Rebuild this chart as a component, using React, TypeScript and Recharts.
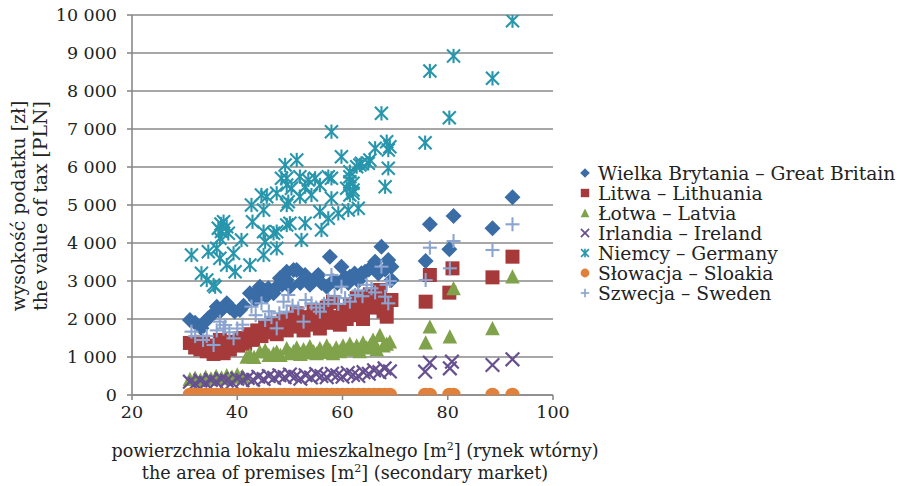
import React from 'react';
import { ScatterChart, Scatter, XAxis, YAxis, CartesianGrid } from 'recharts';

type P = [number, number];

const seriesNames = [
  'Wielka Brytania – Great Britain',
  'Litwa – Lithuania',
  'Łotwa – Latvia',
  'Irlandia – Ireland',
  'Niemcy – Germany',
  'Słowacja – Sloakia',
  'Szwecja – Sweden',
];

const greatBritain: P[] = [
  [31, 1974], [32, 1900], [33.2, 1754], [34, 1950], [34.5, 2018], [35.5, 2150], [36.1, 2325], [36.7, 2200],
  [37.4, 2300], [38, 2412], [38.6, 2300], [39.5, 2200], [40.5, 2237], [41.2, 2350], [42.4, 2675], [43, 2632],
  [43.5, 2500], [44.3, 2851], [45, 2763], [45.5, 2600], [45.9, 2807], [46.9, 2675], [47.5, 2850], [48.1, 3070],
  [48.5, 2900], [49.4, 3245], [49.4, 3026], [50, 2850], [50.7, 3289], [51.3, 3289], [52, 2950], [52.9, 3158],
  [53.2, 3070], [53.8, 2900], [54.5, 3000], [55.1, 3114], [55.4, 3158], [56, 2950], [57, 2851], [57.6, 3640],
  [58.2, 3000], [59, 2950], [59.8, 3377], [60.5, 3100], [61.1, 2950], [61.4, 3114], [62.3, 3200], [63, 3000],
  [63.6, 3202], [64.3, 3245], [65, 3300], [65.9, 3333], [66.2, 3509], [66.8, 3200], [67.4, 3903], [68.1, 3300],
  [68.7, 3553], [69.3, 3377], [69.3, 3026], [75.8, 3526], [76.6, 4492], [80.3, 3834], [81.1, 4710], [88.5, 4386],
  [92.3, 5203],
];

const lithuania: P[] = [
  [31, 1370], [32, 1250], [33, 1200], [33.5, 1400], [34.2, 1150], [35, 1300], [35.5, 1080], [36.1, 1250],
  [36.7, 1450], [37.4, 1100], [38, 1300], [38.6, 1200], [39.3, 1400], [40.2, 1300], [40.8, 1500], [41.5, 1350],
  [42.4, 1600], [43, 1450], [43.8, 1700], [44.6, 1550], [45.3, 1800], [46, 1650], [46.9, 1900], [47.5, 1600],
  [48.1, 1750], [48.8, 1950], [49.4, 1700], [50, 2000], [50.6, 1800], [51.3, 2150], [51.9, 1900], [52.6, 1700],
  [53.2, 2050], [53.8, 1850], [54.5, 2200], [55.1, 1950], [55.7, 1750], [56.4, 2100], [57, 2300], [57.6, 1900],
  [58.2, 2450], [58.8, 2050], [59.5, 1850], [60.1, 2200], [60.8, 2000], [61.4, 2350], [62, 2100], [62.7, 2550],
  [63.3, 2250], [63.9, 2000], [64.6, 2400], [65.2, 2650], [65.8, 2300], [66.5, 2500], [67.1, 2763], [67.8, 2200],
  [68.4, 2412], [68.4, 2061], [69.3, 2500], [75.8, 2456], [76.6, 3158], [80.3, 2693], [80.9, 3333], [88.5, 3096],
  [92.3, 3640],
];

const latvia: P[] = [
  [31, 420], [32, 450], [33, 400], [34, 480], [35, 430], [36, 500], [37, 460], [38, 520], [39, 480], [40, 540],
  [41, 500], [41.8, 1008], [42.4, 1053], [43.2, 1000], [44.3, 1140], [45.3, 1184], [46, 1050], [46.9, 1100],
  [47.5, 1140], [48.2, 1050], [49.4, 1228], [50, 1100], [50.7, 1150], [51.3, 1250], [52, 1080], [52.6, 1200],
  [53.2, 1120], [53.8, 1280], [54.5, 1150], [55.1, 1100], [55.7, 1230], [56.4, 1130], [57, 1300], [57.6, 1180],
  [58.2, 1100], [58.8, 1250], [59.5, 1150], [60.1, 1300], [60.8, 1200], [61.4, 1350], [62, 1200], [62.7, 1300],
  [63.3, 1150], [63.9, 1380], [64.6, 1250], [65.2, 1300], [65.8, 1450], [66.5, 1200], [67.1, 1579], [67.8, 1300],
  [68.4, 1350], [69, 1403], [75.8, 1377], [76.6, 1798], [80.4, 1535], [81.1, 2807], [88.5, 1754], [92.3, 3114],
];

const ireland: P[] = [
  [31, 350], [32, 300], [33, 380], [34, 320], [35, 400], [36, 350], [37, 420], [38, 380], [39, 330], [40, 430],
  [41, 390], [42, 450], [43, 400], [44, 480], [45, 420], [46, 500], [47, 450], [48, 520], [49, 470], [50, 540],
  [51, 480], [52, 430], [53, 520], [54, 460], [55, 550], [56, 500], [57, 470], [58, 560], [59, 520], [60, 480],
  [61, 580], [62, 530], [63, 500], [64, 600], [65, 560], [66, 650], [67, 600], [68, 700], [69, 620],
  [75.7, 614], [76.6, 850], [80.4, 702], [80.8, 877], [88.5, 789], [92.3, 939],
];

const germany: P[] = [
  [31.3, 3684], [33.2, 3202], [34.2, 3026], [34.5, 3772], [35.5, 2895], [35.8, 2851], [36.1, 3860], [36.4, 4386],
  [36.7, 4123], [36.7, 3596], [36.9, 4500], [37, 4300], [37.4, 4561], [38, 4430], [38, 3421], [38.3, 4254],
  [39.3, 3728], [39.6, 3245], [40.8, 4079], [42.4, 3421], [42.7, 5000], [42.9, 4561], [44.6, 5263], [45, 4868],
  [45, 4298], [45.3, 4035], [45, 3684], [45.6, 5219], [46.9, 4254], [47.5, 4298], [47.5, 3860], [47.5, 5307],
  [48.4, 5702], [49.1, 6053], [49.4, 5526], [49.4, 5000], [49.4, 4474], [49.4, 5702], [49.7, 5088], [50, 4518],
  [50.3, 5439], [51.3, 6184], [51.9, 5746], [51.9, 5219], [52.2, 4079], [52.9, 4518], [52.9, 5482], [53.5, 5658],
  [54.1, 5263], [54.8, 5702], [55.7, 5526], [55.7, 4825], [56, 4342], [57.3, 4649], [57.3, 5746], [57.9, 5175],
  [57.9, 5702], [57.9, 6930], [59.2, 4781], [59.8, 6272], [60.8, 5439], [61.1, 4868], [61.4, 5877], [61.4, 5614],
  [61.4, 5263], [61.4, 5745], [62, 5395], [62, 5570], [62, 5307], [62.7, 6008], [63, 4912], [63.3, 6053],
  [63.6, 6096], [64.9, 6096], [65.2, 6184], [66.2, 6491], [67.4, 7412], [68.1, 5482], [68.4, 6667], [68.7, 5965],
  [68.7, 6447], [69, 6535], [75.7, 6640], [76.6, 8526], [80.3, 7298], [81.1, 8921], [88.5, 8333], [92.3, 9850],
];

const slovakia: P[] = [
  [31, 0], [32, 0], [33, 0], [34, 0], [35, 0], [36, 0], [37, 0], [38, 0], [39, 0], [40, 0], [41, 0], [42, 0],
  [43, 0], [44, 0], [45, 0], [46, 0], [47, 0], [48, 0], [49, 0], [50, 0], [51, 0], [52, 0], [53, 0], [54, 0],
  [55, 0], [56, 0], [57, 0], [58, 0], [59, 0], [60, 0], [61, 0], [62, 0], [63, 0], [64, 0], [65, 0], [66, 0],
  [67, 0], [68, 0], [69, 0], [75.7, 0], [76.6, 0], [80.3, 0], [81.1, 0], [88.5, 0], [92.3, 0],
];

const sweden: P[] = [
  [31.3, 1667], [32, 1550], [33.5, 1447], [34.2, 1550], [35.5, 1316], [36.1, 1700], [36.7, 1930], [37.4, 1750],
  [37.7, 1842], [38.5, 1650], [39.3, 1491], [40, 1750], [41, 1850], [42.7, 2325], [43.5, 2100], [44.6, 2412],
  [45.3, 1974], [46, 2200], [46.5, 2050], [47.5, 1754], [48, 2150], [48.8, 2456], [49.4, 2193], [49.7, 2632],
  [50.5, 2350], [51.6, 2281], [52.6, 1930], [53, 2500], [54.1, 2412], [55, 2300], [55.7, 2193], [56.5, 2400],
  [57.3, 2500], [57.9, 3158], [58.5, 2600], [59.2, 2400], [59.8, 2851], [60.5, 2550], [61.4, 2456], [62.4, 2632],
  [63, 2750], [63.8, 2600], [64.6, 2900], [65.5, 2807], [66.2, 2700], [67.4, 3377], [68.1, 2588], [68.4, 2900],
  [68.7, 2412], [69, 3000], [75.8, 3026], [76.6, 3877], [80.4, 3333], [81.1, 4052], [88.5, 3816], [92.3, 4492],
];

const xTicks = [20, 40, 60, 80, 100];
const yTicks = [0, 1000, 2000, 3000, 4000, 5000, 6000, 7000, 8000, 9000, 10000];

const colors = ['#3A6CA6', '#A63A3A', '#7FA24A', '#67508F', '#2796AC', '#E0803A', '#8CA4D0'];

const FONT = '"DejaVu Serif", "Liberation Serif", serif';
const GRID = '#8a8a8a';
const TEXT = '#222';

const toPts = (a: P[]) => a.map(([x, y]) => ({ x, y }));

type MProps = { cx: number; cy: number; color: string; s?: number };

const Marker = ({ kind, cx, cy, color, s = 1 }: MProps & { kind: number }) => {
  if (cx == null || cy == null) return null;
  switch (kind) {
    case 0: {
      const r = 8 * s;
      return <polygon points={`${cx},${cy - r} ${cx + r},${cy} ${cx},${cy + r} ${cx - r},${cy}`} fill={color} />;
    }
    case 1: {
      const h = 7 * s;
      return <rect x={cx - h} y={cy - h} width={2 * h} height={2 * h} fill={color} />;
    }
    case 2: {
      const h = 7.3 * s;
      return <polygon points={`${cx},${cy - h} ${cx + h},${cy + h * 0.95} ${cx - h},${cy + h * 0.95}`} fill={color} />;
    }
    case 3: {
      const h = 6.8 * s;
      return (
        <g stroke={color} strokeWidth={2.2 * Math.max(s, 0.8)}>
          <line x1={cx - h} y1={cy - h} x2={cx + h} y2={cy + h} />
          <line x1={cx - h} y1={cy + h} x2={cx + h} y2={cy - h} />
        </g>
      );
    }
    case 4: {
      const h = 6.5 * s;
      return (
        <g stroke={color} strokeWidth={2.1 * Math.max(s, 0.8)}>
          <line x1={cx - h} y1={cy - h} x2={cx + h} y2={cy + h} />
          <line x1={cx - h} y1={cy + h} x2={cx + h} y2={cy - h} />
          <line x1={cx} y1={cy - h * 1.1} x2={cx} y2={cy + h * 1.1} />
        </g>
      );
    }
    case 5: {
      return <circle cx={cx} cy={cy} r={7.3 * s} fill={color} />;
    }
    default: {
      const h = 7 * s;
      return (
        <g stroke={color} strokeWidth={2.1 * Math.max(s, 0.8)}>
          <line x1={cx - h} y1={cy} x2={cx + h} y2={cy} />
          <line x1={cx} y1={cy - h} x2={cx} y2={cy + h} />
        </g>
      );
    }
  }
};

const allSeries = [greatBritain, lithuania, latvia, ireland, germany, slovakia, sweden];

const fmt = (v: number) => (v >= 1000 ? `${Math.floor(v / 1000)} ${String(v % 1000).padStart(3, '0')}` : String(v));

export default function App() {
  return (
    <div style={{ position: 'absolute', left: 0, top: 0, width: 900, height: 486, background: '#fff', fontFamily: FONT }}>
      <ScatterChart width={900} height={486} margin={{ top: 15, right: 347, bottom: 0, left: 0 }}>
        <CartesianGrid vertical={false} horizontal stroke={GRID} strokeWidth={1.6} />
        <XAxis
          type="number"
          dataKey="x"
          domain={[20, 100]}
          ticks={xTicks}
          height={91}
          allowDataOverflow
          axisLine={{ stroke: GRID, strokeWidth: 1.6 }}
          tickLine={{ stroke: GRID, strokeWidth: 1.6 }}
          tickSize={5}
          tickMargin={6}
          tick={{ fill: TEXT, fontSize: 17.5, fontFamily: FONT }}
        />
        <YAxis
          type="number"
          dataKey="y"
          domain={[0, 10000]}
          ticks={yTicks}
          width={132}
          allowDataOverflow
          axisLine={{ stroke: GRID, strokeWidth: 1.6 }}
          tickLine={{ stroke: GRID, strokeWidth: 1.6 }}
          tickSize={5}
          tickMargin={10}
          tickFormatter={fmt}
          tick={{ fill: TEXT, fontSize: 17.5, fontFamily: FONT }}
        />
        {allSeries.map((s, i) => (
          <Scatter
            key={i}
            name={seriesNames[i]}
            data={toPts(s)}
            fill={colors[i]}
            isAnimationActive={false}
            shape={(p: any) => <Marker kind={i} cx={p.cx} cy={p.cy} color={colors[i]} />}
          />
        ))}
      </ScatterChart>
      <svg width={900} height={486} style={{ position: 'absolute', left: 0, top: 0, pointerEvents: 'none' }}>
        <g fontFamily={FONT} fill={TEXT} fontSize={17.6}>
          <text x={355} y={457} textAnchor="middle">
            powierzchnia lokalu mieszkalnego [m<tspan dy={-7} fontSize={11}>2</tspan>
            <tspan dy={7}>] (rynek wtórny)</tspan>
          </text>
          <text x={345} y={479} textAnchor="middle">
            the area of premises [m<tspan dy={-7} fontSize={11}>2</tspan>
            <tspan dy={7}>] (secondary market)</tspan>
          </text>
        </g>
        <g fontFamily={FONT} fill={TEXT} fontSize={18.8}>
          <text transform="translate(25,206) rotate(-90)" textAnchor="middle">wysokość podatku [zł]</text>
          <text transform="translate(47,206) rotate(-90)" textAnchor="middle">the value of tax [PLN]</text>
        </g>
        <g fontFamily={FONT} fill={TEXT} fontSize={18.7}>
          {seriesNames.map((n, i) => (
            <g key={n}>
              <Marker kind={i} cx={585} cy={173 + i * 20} color={colors[i]} s={0.6} />
              <text x={598} y={173 + i * 20 + 6.5}>{n}</text>
            </g>
          ))}
        </g>
      </svg>
    </div>
  );
}
